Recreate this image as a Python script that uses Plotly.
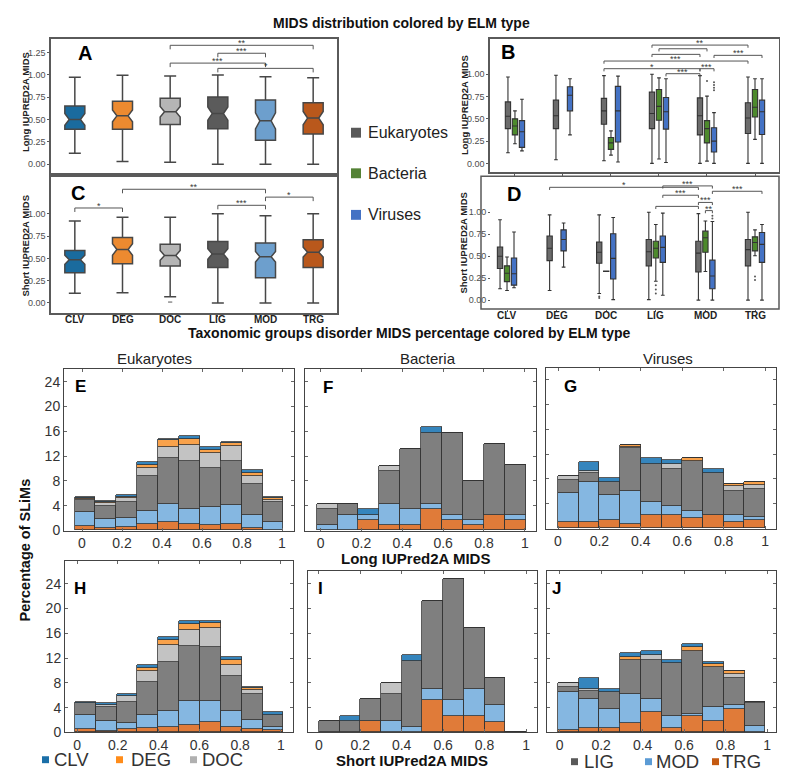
import plotly.graph_objects as go

W, H = 788, 780
FONT = "Liberation Sans, Arial, Helvetica, sans-serif"

categories = ["CLV", "DEG", "DOC", "LIG", "MOD", "TRG"]
taxa = ["Eukaryotes", "Bacteria", "Viruses"]

# ---------------- Panel A (Long IUPred2A, all taxa) ----------------
A_lower = [0.125, 0.033, 0.022, 0.0, 0.0, 0.0]
A_q1 = [0.391, 0.391, 0.446, 0.399, 0.270, 0.340]
A_median = [0.502, 0.542, 0.587, 0.568, 0.487, 0.517]
A_q3 = [0.653, 0.705, 0.738, 0.753, 0.720, 0.690]
A_upper = [0.974, 0.996, 0.989, 1.000, 0.980, 0.967]
A_notch = [0.066, 0.065, 0.059, 0.074, 0.090, 0.074]
A_brackets = [("DOC", "TRG", 1.331, "**"), ("LIG", "MOD", 1.242, "***"),
              ("DOC", "MOD", 1.132, "***"), ("LIG", "TRG", 1.073, "*")]

# ---------------- Panel C (Short IUPred2A, all taxa) ----------------
C_lower = [0.110, 0.114, 0.070, 0.0, 0.0, 0.0]
C_q1 = [0.340, 0.440, 0.415, 0.397, 0.283, 0.397]
C_median = [0.485, 0.600, 0.533, 0.550, 0.518, 0.570]
C_q3 = [0.590, 0.735, 0.660, 0.690, 0.673, 0.710]
C_upper = [0.920, 0.963, 0.963, 1.000, 0.980, 1.000]
C_notch = [0.051, 0.064, 0.055, 0.059, 0.059, 0.055]
C_outliers = [("DOC", [0.01])]
C_brackets = [("DEG", "MOD", 1.276, "**"), ("MOD", "TRG", 1.188, "*"),
              ("LIG", "MOD", 1.096, "***"), ("CLV", "DEG", 1.066, "*")]

# ---------------- Panel B (Long IUPred2A, by taxon) ----------------
B_euk = dict(lower=[0.12, 0.04, 0.03, 0.0, 0.0, 0.0],
             q1=[0.39, 0.39, 0.44, 0.39, 0.32, 0.335],
             median=[0.53, 0.535, 0.59, 0.56, 0.535, 0.51],
             q3=[0.69, 0.71, 0.73, 0.80, 0.735, 0.68],
             upper=[0.97, 0.99, 0.985, 1.0, 0.985, 0.97])
B_bac = dict(lower=[0.22, None, 0.093, 0.05, 0.025, 0.27],
             q1=[0.32, None, 0.157, 0.485, 0.23, 0.52],
             median=[0.42, None, 0.23, 0.64, 0.39, 0.63],
             q3=[0.50, None, 0.29, 0.83, 0.48, 0.83],
             upper=[0.59, None, 0.365, 0.96, 0.755, 0.95])
B_vir = dict(lower=[0.14, 0.32, 0.015, 0.01, 0.0, 0.0],
             q1=[0.18, 0.59, 0.24, 0.385, 0.127, 0.325],
             median=[0.355, 0.765, 0.59, 0.58, 0.25, 0.58],
             q3=[0.48, 0.86, 0.865, 0.74, 0.40, 0.71],
             upper=[0.72, 0.95, 0.98, 0.95, 0.57, 0.95])
B_outliers = [("MOD", "Bacteria", [0.925]), ("MOD", "Viruses", [0.91, 0.88, 0.85, 0.82])]
B_brackets = [(("LIG", "Eukaryotes"), ("TRG", "Eukaryotes"), 1.328, "**"),
              (("LIG", "Bacteria"), ("MOD", "Bacteria"), 1.287, ""),
              (("LIG", "Eukaryotes"), ("MOD", "Eukaryotes"), 1.224, ""),
              (("MOD", "Viruses"), ("TRG", "Viruses"), 1.213, "***"),
              (("DOC", "Eukaryotes"), ("TRG", "Eukaryotes"), 1.149, "***"),
              (("DOC", "Eukaryotes"), ("MOD", "Eukaryotes"), 1.063, "*"),
              (("MOD", "Eukaryotes"), ("MOD", "Viruses"), 1.063, "***"),
              (("LIG", "Viruses"), ("MOD", "Eukaryotes"), 1.007, "***")]

# ---------------- Panel D (Short IUPred2A, by taxon) ----------------
D_euk = dict(lower=[0.13, 0.11, 0.075, 0.005, 0.0, 0.0],
             q1=[0.36, 0.45, 0.42, 0.39, 0.32, 0.39],
             median=[0.50, 0.59, 0.545, 0.55, 0.535, 0.575],
             q3=[0.605, 0.73, 0.66, 0.69, 0.67, 0.69],
             upper=[0.915, 0.97, 0.97, 1.0, 0.985, 1.0])
D_bac = dict(lower=[0.11, None, 0.325, 0.215, 0.325, 0.505],
             q1=[0.21, None, 0.325, 0.48, 0.545, 0.56],
             median=[0.305, None, 0.328, 0.59, 0.71, 0.655],
             q3=[0.39, None, 0.332, 0.67, 0.785, 0.72],
             upper=[0.49, None, 0.332, 0.86, 0.90, 0.80])
D_vir = dict(lower=[0.14, 0.375, 0.005, 0.055, 0.0, 0.0],
             q1=[0.17, 0.56, 0.24, 0.43, 0.13, 0.43],
             median=[0.30, 0.69, 0.475, 0.60, 0.275, 0.635],
             q3=[0.48, 0.80, 0.755, 0.73, 0.455, 0.77],
             upper=[0.775, 0.877, 0.94, 0.99, 0.895, 0.86])
D_outliers = [("DOC", "Eukaryotes", [0.04, 0.025]), ("LIG", "Bacteria", [0.17, 0.12, 0.075]),
              ("MOD", "Viruses", [0.96, 0.93]), ("TRG", "Bacteria", [0.27, 0.23])]
D_brackets = [(("DEG", "Eukaryotes"), ("MOD", "Eukaryotes"), 1.284, "*"),
              (("LIG", "Viruses"), ("MOD", "Viruses"), 1.300, "***"),
              (("MOD", "Viruses"), ("TRG", "Viruses"), 1.239, "***"),
              (("LIG", "Viruses"), ("MOD", "Eukaryotes"), 1.194, "***"),
              (("MOD", "Eukaryotes"), ("MOD", "Viruses"), 1.112, "***"),
              (("LIG", "Bacteria"), ("MOD", "Eukaryotes"), 1.067, ""),
              (("MOD", "Bacteria"), ("MOD", "Viruses"), 1.019, "**")]

# ---------------- Histograms (percentage of SLiMs per MIDS bin) ----------------
stack_order = ["TRG", "MOD", "LIG", "DOC", "DEG", "CLV"]
E_pct = {"TRG": [0.7, 0.3, 0.6, 1.0, 1.3, 1.1, 0.9, 1.0, 0.4, 0.1],
         "MOD": [2.2, 1.45, 1.4, 2.1, 2.95, 2.35, 2.9, 3.1, 2.15, 1.2],
         "LIG": [2.0, 2.25, 2.5, 5.7, 7.35, 7.75, 6.3, 7.1, 4.9, 3.2],
         "DOC": [0.1, 0.4, 0.7, 1.2, 1.9, 2.6, 2.4, 2.4, 1.35, 0.45],
         "DEG": [0.2, 0.1, 0.1, 0.6, 1.0, 0.9, 0.5, 0.4, 0.4, 0.2],
         "CLV": [0.2, 0.2, 0.4, 0.4, 0.3, 0.5, 0.4, 0.25, 0.5, 0.25]}
F_pct = {"TRG": [0, 0, 1.65, 0.8, 0.8, 3.45, 1.65, 0.8, 2.55, 1.7],
         "MOD": [0.8, 2.55, 0.9, 3.5, 2.65, 0.85, 0.9, 0.85, 0, 0.8],
         "LIG": [2.65, 1.75, 0, 5.3, 9.65, 11.4, 13.15, 6.25, 11.35, 8.0],
         "DOC": [0.85, 0, 0, 0.8, 0, 0, 0, 0, 0, 0],
         "DEG": [0, 0, 0, 0, 0, 0, 0, 0, 0, 0],
         "CLV": [0, 0, 0.9, 0, 0, 0.95, 0, 0, 0, 0]}
G_pct = {"TRG": [1.0, 1.0, 1.3, 0.7, 2.1, 2.1, 1.65, 2.1, 1.0, 1.3],
         "MOD": [4.65, 6.4, 4.0, 5.3, 2.1, 1.45, 1.1, 0, 1.1, 0.55],
         "LIG": [2.15, 1.6, 2.15, 6.9, 6.1, 6.05, 8.15, 6.8, 3.9, 4.55],
         "DOC": [0.65, 0.3, 0, 0.2, 0, 0.7, 0, 0, 0.75, 0.6],
         "DEG": [0, 0, 0, 0.3, 0, 0, 0.4, 0, 0.35, 0.4],
         "CLV": [0, 1.4, 0.65, 0, 1.1, 0.7, 0, 0.7, 0, 0]}
H_pct = {"TRG": [0.45, 0.15, 0.5, 0.65, 0.9, 1.2, 1.6, 0.8, 0.55, 0.3],
         "MOD": [2.25, 1.7, 1.05, 2.15, 2.45, 3.8, 3.5, 2.6, 1.5, 0.6],
         "LIG": [1.95, 2.2, 3.35, 5.3, 7.95, 8.9, 8.6, 5.7, 4.05, 1.95],
         "DOC": [0, 0.35, 0.9, 1.75, 2.75, 2.6, 3.1, 1.8, 0.65, 0],
         "DEG": [0, 0, 0, 0.55, 0.85, 1.0, 0.8, 0.8, 0.35, 0],
         "CLV": [0.25, 0.25, 0.3, 0.5, 0.5, 0.4, 0.3, 0.35, 0.25, 0.45]}
I_pct = {"TRG": [0, 0, 1.8, 0, 0, 5.25, 2.6, 2.6, 1.7, 0],
         "MOD": [0, 0, 0, 1.8, 0.9, 1.75, 2.65, 4.4, 2.7, 0],
         "LIG": [1.8, 1.8, 3.5, 4.3, 10.55, 14.2, 19.45, 9.75, 4.4, 0],
         "DOC": [0, 0, 0, 1.85, 0, 0, 0, 0, 0, 0],
         "DEG": [0, 0, 0, 0, 0, 0, 0, 0, 0, 0],
         "CLV": [0, 0.9, 0, 0, 0.95, 0, 0, 0, 0, 0]}
J_pct = {"TRG": [0.3, 0.75, 0.75, 1.45, 3.3, 0.75, 2.6, 1.85, 3.7, 0],
         "MOD": [6.2, 4.65, 2.95, 4.7, 2.15, 1.85, 0.4, 2.2, 0.75, 1.1],
         "LIG": [0.8, 1.2, 2.8, 5.45, 6.25, 8.5, 10.1, 6.45, 4.35, 3.65],
         "DOC": [0.7, 0.4, 0, 0, 0.7, 0, 0, 0, 0.65, 0.1],
         "DEG": [0, 0, 0, 0.6, 0, 0, 0.7, 0.5, 0.45, 0],
         "CLV": [0, 1.75, 0.5, 0.6, 0.7, 0.6, 0.5, 0.4, 0, 0]}
x_ticks = [0, 0.2, 0.4, 0.6, 0.8, 1.0]
x_ticktext = ["0", "0.2", "0.4", "0.6", "0.8", "1"]
y_ticks = [0, 4, 8, 12, 16, 20, 24]

# ---------------- Colours ----------------
elm_box_colors = {"CLV": "#1a6b9e", "DEG": "#ec8a30", "DOC": "#b5b5b5",
                  "LIG": "#5b5b5b", "MOD": "#6d9fcd", "TRG": "#b9581c"}
hist_colors = {"TRG": "#e07b39", "MOD": "#85b7e1", "LIG": "#7f7f7f",
               "DOC": "#c3c3c3", "DEG": "#f9a24b", "CLV": "#3585bd"}
taxa_colors = {"Eukaryotes": "#6b6b6b", "Bacteria": "#4d8a2c", "Viruses": "#4472c4"}
legend_colors = {"CLV": "#1b6fa8", "DEG": "#ff8c1a", "DOC": "#b0b0b0",
                 "LIG": "#595959", "MOD": "#5b9bd5", "TRG": "#c55a11"}


def fx(x):
    return x / W


def fy(y):
    return 1 - y / H


fig = go.Figure()
shapes = []
annotations = []
layout_axes = {}


def add_axes(k, box, xr, yr):
    x0, y0, x1, y1 = box
    xa = "xaxis" if k == 1 else f"xaxis{k}"
    ya = "yaxis" if k == 1 else f"yaxis{k}"
    layout_axes[xa] = dict(domain=[fx(x0), fx(x1)], range=xr, anchor=("y" if k == 1 else f"y{k}"))
    layout_axes[ya] = dict(domain=[fy(y1), fy(y0)], range=yr, anchor=("x" if k == 1 else f"x{k}"))
    return xa, ya


def ref(k):
    return ("x", "y") if k == 1 else (f"x{k}", f"y{k}")


box_axis_common = dict(showgrid=False, zeroline=False, showline=True, mirror=True,
                       linecolor="#5a5a5a", linewidth=1.5, ticks="outside", ticklen=2,
                       tickcolor="#5a5a5a", tickfont=dict(size=9, color="#4d4d4d", family=FONT))


def category_labels(k, ypx, xs):
    xr_, _ = ref(k)
    for xv, cat in zip(xs, categories):
        annotations.append(dict(x=xv, y=fy(ypx), xref=xr_, yref="paper", text=f"<b>{cat}</b>",
                                showarrow=False, yanchor="middle",
                                font=dict(size=10, color="#222", family=FONT)))


def star(k, x, y, s, size):
    xr_, yr_ = ref(k)
    annotations.append(dict(x=x, y=y, xref=xr_, yref=yr_, text=s, showarrow=False,
                            yanchor="middle", yshift=2, font=dict(size=size, color="#3a3a3a", family=FONT)))


# ---- A and C: notched boxes per ELM class ----
for k, box, stats, brackets, show_lab, yr, ytv in [
        (1, (43, 31, 329, 167), (A_lower, A_q1, A_median, A_q3, A_upper, A_notch), A_brackets, False,
         [-0.1, 1.405], [0, 0.25, 0.5, 0.75, 1.0, 1.25]),
        (2, (43, 171, 329, 308), (C_lower, C_q1, C_median, C_q3, C_upper, C_notch), C_brackets, True,
         [-0.111, 1.411], [0, 0.25, 0.5, 0.75, 1.0])]:
    xa, ya = add_axes(k, box, [-0.5, 5.5], yr)
    xr_, yr_ = ref(k)
    lo, q1, md, q3, up, nt = stats
    for i, cat in enumerate(categories):
        fig.add_trace(go.Box(x=[i], lowerfence=[lo[i]], q1=[q1[i]], median=[md[i]], q3=[q3[i]],
                             upperfence=[up[i]], notched=True, notchspan=[nt[i]], notchwidth=0.22,
                             width=0.42, whiskerwidth=0.6, fillcolor=elm_box_colors[cat],
                             line=dict(color="#474747", width=1.5), boxpoints=False,
                             xaxis=xr_, yaxis=yr_, showlegend=False, hoverinfo="skip"))
    layout_axes[xa].update(box_axis_common, tickvals=list(range(6)), showticklabels=False)
    layout_axes[ya].update(box_axis_common, tickvals=ytv, tickformat=".2f")
    if show_lab:
        category_labels(k, 315, list(range(6)))
    for a, b, yv, txt_ in brackets:
        xa_ = categories.index(a)
        xb_ = categories.index(b)
        d = 0.045
        shapes.append(dict(type="path", xref=xr_, yref=yr_,
                           path=f"M {xa_},{yv - d} L {xa_},{yv} L {xb_},{yv} L {xb_},{yv - d}",
                           line=dict(color="#555", width=1)))
        if txt_:
            star(k, (xa_ + xb_) / 2, yv, txt_, 9)

for cat, vals in C_outliers:
    fig.add_trace(go.Scatter(x=[categories.index(cat)] * len(vals), y=vals, mode="markers",
                             marker=dict(size=3, color="#555", symbol="line-ew", line=dict(width=1, color="#555")),
                             xaxis="x2", yaxis="y2", showlegend=False, hoverinfo="skip"))

# ---- B and D: boxes grouped by taxon ----
for k, box, frame, groups, outl, brackets, xr, yr, off, bw, show_lab in [
        (3, (482, 31, 771, 166), None, {"Eukaryotes": B_euk, "Bacteria": B_bac, "Viruses": B_vir},
         B_outliers, B_brackets, [-0.52, 5.5], [-0.1, 1.40], 0.146, 0.11, False),
        (4, (483, 170, 771, 304), (473, 170, 771, 304), {"Eukaryotes": D_euk, "Bacteria": D_bac, "Viruses": D_vir},
         D_outliers, D_brackets, [-0.323, 5.484], [-0.1, 1.41], 0.141, 0.107, True)]:
    xa, ya = add_axes(k, box, xr, yr)
    xr_, yr_ = ref(k)
    offsets = {"Eukaryotes": -off, "Bacteria": 0.0, "Viruses": off}
    for t in taxa:
        s = groups[t]
        idx = [i for i in range(6) if s["q1"][i] is not None]
        fig.add_trace(go.Box(x=[i + offsets[t] for i in idx],
                             lowerfence=[s["lower"][i] for i in idx], q1=[s["q1"][i] for i in idx],
                             median=[s["median"][i] for i in idx], q3=[s["q3"][i] for i in idx],
                             upperfence=[s["upper"][i] for i in idx], width=bw, whiskerwidth=0.7,
                             fillcolor=taxa_colors[t], line=dict(color="#333", width=1.1), boxpoints=False,
                             xaxis=xr_, yaxis=yr_, showlegend=False, hoverinfo="skip"))
    for cat, t, vals in outl:
        fig.add_trace(go.Scatter(x=[categories.index(cat) + offsets[t]] * len(vals), y=vals, mode="markers",
                                 marker=dict(size=2, color="#555"), xaxis=xr_, yaxis=yr_,
                                 showlegend=False, hoverinfo="skip"))
    layout_axes[xa].update(box_axis_common, tickvals=list(range(6)), showticklabels=False)
    layout_axes[ya].update(box_axis_common, tickvals=[0, 0.25, 0.5, 0.75, 1.0], tickformat=".2f")
    if frame is not None:
        layout_axes[xa].update(showline=False)
        layout_axes[ya].update(showline=False)
        fx0, fy0, fx1, fy1 = frame
        shapes.append(dict(type="rect", xref="paper", yref="paper", x0=fx(fx0), x1=fx(fx1),
                           y0=fy(fy1), y1=fy(fy0), line=dict(color="#5a5a5a", width=1.5)))
    if show_lab:
        category_labels(k, 311, list(range(6)))
    for (ca, ta), (cb, tb), yv, txt_ in brackets:
        xa_ = categories.index(ca) + offsets[ta]
        xb_ = categories.index(cb) + offsets[tb]
        d = 0.03
        shapes.append(dict(type="path", xref=xr_, yref=yr_,
                           path=f"M {xa_},{yv - d} L {xa_},{yv} L {xb_},{yv} L {xb_},{yv - d}",
                           line=dict(color="#555", width=1)))
        if txt_:
            star(k, (xa_ + xb_) / 2, yv, txt_, 9)

# ---- Histograms ----
hist_specs = [
    (5, "E", E_pct, (56, 365, 286, 528), [-0.09, 1.06], [0, 26.0], -0.037, 0.1044, True),
    (6, "F", F_pct, (297, 365, 528, 528), [-0.077, 1.055], [0, 26.0], -0.02, 0.1025, False),
    (7, "G", G_pct, (538, 364, 768, 526), [-0.058, 1.053], [0, 25.85], 0.0, 0.1, False),
    (8, "H", H_pct, (57, 559, 285, 732), [-0.059, 1.059], [0, 27.6], -0.011, 0.1023, True),
    (9, "I", I_pct, (300, 569, 529, 732), [-0.052, 1.053], [0, 26.0], 0.0, 0.1, False),
    (10, "J", J_pct, (539, 569, 768, 732), [-0.061, 1.043], [0, 26.0], -0.008, 0.1, False),
]
hist_axis_common = dict(showgrid=False, zeroline=False, showline=True, mirror="ticks",
                        linecolor="#444", linewidth=1, ticks="inside", ticklen=3, tickcolor="#666",
                        tickfont=dict(size=14, color="#333", family=FONT))
for k, name, data, box, xr, yr, start, bwid, show_y in hist_specs:
    xa, ya = add_axes(k, box, xr, yr)
    xr_, yr_ = ref(k)
    centers = [start + bwid * (i + 0.5) for i in range(10)]
    for cat in stack_order:
        fig.add_trace(go.Bar(x=centers, y=data[cat], width=bwid,
                             marker=dict(color=hist_colors[cat], line=dict(color="#333", width=0.8)),
                             xaxis=xr_, yaxis=yr_, showlegend=False, hoverinfo="skip"))
    layout_axes[xa].update(hist_axis_common, tickvals=x_ticks, ticktext=x_ticktext)
    layout_axes[ya].update(hist_axis_common, tickvals=y_ticks, showticklabels=show_y)


# ---------------- Texts ----------------
def txt(x, y, s, size, bold=False, color="#111", angle=0, xanchor="center"):
    annotations.append(dict(x=fx(x), y=fy(y), xref="paper", yref="paper", showarrow=False,
                            text=(f"<b>{s}</b>" if bold else s), textangle=angle, xanchor=xanchor,
                            yanchor="middle", font=dict(size=size, color=color, family=FONT)))


txt(393, 15, "MIDS distribution colored by ELM type", 14, bold=True)
txt(401, 328, "Taxonomic groups disorder MIDS percentage colored by ELM type", 14, bold=True)
txt(146, 354, "Eukaryotes", 15, color="#222")
txt(420, 354, "Bacteria", 15, color="#222")
txt(660, 354, "Viruses", 15, color="#222")
txt(407, 556, "Long IUPred2A MIDS", 15, bold=True)
txt(404, 760, "Short IUPred2A MIDS", 15, bold=True)
txt(17, 548, "Percentage of SLiMs", 14.5, bold=True, angle=-90)
txt(17, 95, "Long IUPRED2A MIDS", 9.5, bold=True, color="#222", angle=-90)
txt(18, 240, "Short IUPRED2A MIDS", 9.5, bold=True, color="#222", angle=-90)
txt(457, 98, "Long IUPRED2A MIDS", 9.5, bold=True, color="#222", angle=-90)
txt(456, 237, "Short IUPRED2A MIDS", 9.5, bold=True, color="#222", angle=-90)

for letter, x, y, size in [("A", 77, 45, 20), ("B", 500, 44, 20), ("C", 70, 187, 20), ("D", 506, 188, 20),
                           ("E", 72, 382, 17), ("F", 320, 383, 17), ("G", 562, 382, 17),
                           ("H", 72, 587, 17), ("I", 312, 587, 17), ("J", 548, 587, 17)]:
    txt(x, y, letter, size, bold=True, color="#000")

# middle taxon legend
for t, yc in [("Eukaryotes", 126), ("Bacteria", 167), ("Viruses", 209)]:
    shapes.append(dict(type="rect", xref="paper", yref="paper", x0=fx(343), x1=fx(353),
                       y0=fy(yc + 5), y1=fy(yc - 5), fillcolor={"Eukaryotes": "#595959", "Bacteria": "#548235",
                                                                  "Viruses": "#4472c4"}[t], line=dict(width=0)))
    txt(358, yc, t, 16, color="#222", xanchor="left")

# bottom ELM legend
for cat, sx, tx, yc in [("CLV", 34, 44, 759), ("DEG", 108, 121, 759), ("DOC", 182, 192, 759),
                        ("LIG", 563, 574, 761), ("MOD", 637, 646, 761), ("TRG", 704, 712, 761)]:
    shapes.append(dict(type="rect", xref="paper", yref="paper", x0=fx(sx), x1=fx(sx + 7),
                       y0=fy(yc + 4), y1=fy(yc - 3), fillcolor=legend_colors[cat], line=dict(width=0)))
    txt(tx, yc, cat, 18.5, color="#333", xanchor="left")

fig.update_layout(width=W, height=H, margin=dict(l=0, r=0, t=0, b=0), paper_bgcolor="white",
                  plot_bgcolor="white", barmode="stack", boxmode="overlay", bargap=0,
                  font=dict(family=FONT), shapes=shapes, annotations=annotations, **layout_axes)

fig.write_html("out.html")
